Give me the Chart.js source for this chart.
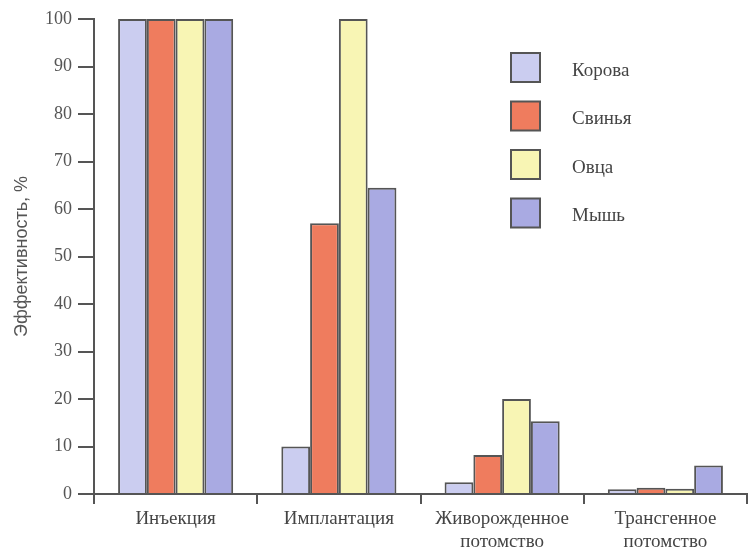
<!DOCTYPE html>
<html>
<head>
<meta charset="utf-8">
<script src="https://cdn.jsdelivr.net/npm/chart.js@4.4.1/dist/chart.umd.min.js"></script>
<style>
  html, body { margin: 0; padding: 0; background: #fff; }
  #wrap { width: 750px; height: 550px; }
</style>
</head>
<body>
<div id="wrap"><canvas id="chartEff" width="750" height="550"></canvas></div>
<script>
const stages = [['Инъекция'], ['Имплантация'], ['Живорожденное', 'потомство'], ['Трансгенное', 'потомство']]
const cowData = [100, 10, 2.5, 1]
const pigData = [100, 57, 8.2, 1.3]
const sheepData = [100, 100, 20, 1.1]
const mouseData = [100, 64.5, 15.3, 6]
const yTicks = [0, 10, 20, 30, 40, 50, 60, 70, 80, 90, 100]

const lineColor = '#555555'
const serif = "'Liberation Serif', 'DejaVu Serif', serif"

// legend drawn inside the plot, top right
const boxLegend = {
    id: 'boxLegend',
    afterDraw(chart) {
        const ctx = chart.ctx;
        const area = chart.chartArea;
        ctx.save();
        chart.data.datasets.forEach(function (ds, i) {
            const x = area.left + 417;
            const y = area.top + 34 + i * 48.5;
            ctx.fillStyle = ds.backgroundColor;
            ctx.fillRect(x, y, 29, 29);
            ctx.lineWidth = 2;
            ctx.strokeStyle = lineColor;
            ctx.strokeRect(x, y, 29, 29);
            ctx.fillStyle = '#444';
            ctx.font = '19px ' + serif;
            ctx.textBaseline = 'middle';
            ctx.fillText(ds.label, x + 61, y + 18);
        });
        ctx.restore();
    }
};

var ctxEff = document.getElementById('chartEff').getContext('2d');
var chartEff = new Chart(ctxEff, {
    type: 'bar',
    data: {
        labels: stages,
        datasets: [
            { label: 'Корова', data: cowData, backgroundColor: '#cbcdf0' },
            { label: 'Свинья', data: pigData, backgroundColor: '#ef7c5e' },
            { label: 'Овца', data: sheepData, backgroundColor: '#f8f5b4' },
            { label: 'Мышь', data: mouseData, backgroundColor: '#a9aae2' }
        ]
    },
    options: {
        responsive: false,
        animation: false,
        layout: { padding: { top: 19, right: 3, left: 0, bottom: 0 } },
        datasets: {
            bar: {
                borderColor: lineColor,
                borderWidth: 2,
                categoryPercentage: 0.705,
                barPercentage: 1.0
            }
        },
        plugins: {
            legend: { display: false },
            tooltip: { enabled: false }
        },
        scales: {
            x: {
                afterFit: function (scale) { scale.height = 56; },
                grid: { offset: true, drawOnChartArea: false, tickLength: 10, color: lineColor, lineWidth: 2 },
                border: { display: true, color: lineColor, width: 2 },
                ticks: { color: '#444', font: { family: serif, size: 19, lineHeight: 1.2 }, padding: 4, maxRotation: 0 }
            },
            y: {
                min: 0,
                max: 100,
                afterFit: function (scale) { scale.width = 94; },
                afterBuildTicks: function (scale) { scale.ticks = yTicks.map(v => ({ value: v })); },
                grid: { drawOnChartArea: false, tickLength: 16, color: lineColor, lineWidth: 2 },
                border: { display: true, color: lineColor, width: 2 },
                ticks: { color: '#555', font: { family: serif, size: 18 }, padding: 6 },
                title: {
                    display: true,
                    text: 'Эффективность, %',
                    color: '#555',
                    font: { family: "'Liberation Sans', Arial, sans-serif", size: 18 },
                    padding: { top: 11, bottom: 0 }
                }
            }
        }
    },
    plugins: [boxLegend]
});
</script>
</body>
</html>
